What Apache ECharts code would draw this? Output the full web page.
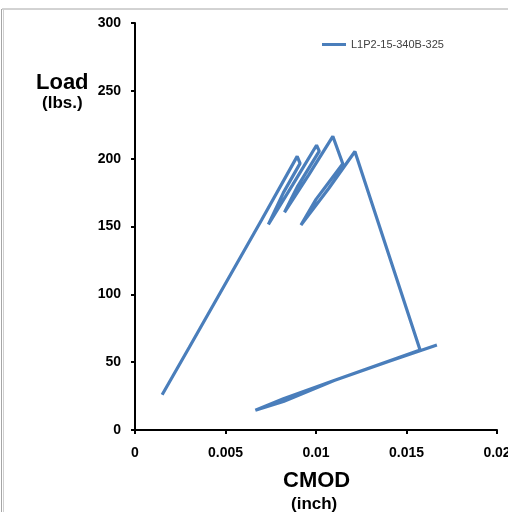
<!DOCTYPE html>
<html>
<head>
<meta charset="utf-8">
<script src="https://cdn.jsdelivr.net/npm/echarts@6/dist/echarts.min.js"></script>
<style>html,body{margin:0;padding:0;background:#fff;}#c{width:508px;height:512px;}</style>
</head>
<body>
<div id="c"></div>
<script>
const seriesName = 'L1P2-15-340B-325';
const cmod = [0.0015, 0.0030, 0.0050, 0.0070, 0.00896, 0.00912, 0.00820, 0.00737, 0.00870, 0.01003, 0.01018, 0.00900, 0.00826, 0.00960, 0.01093, 0.01148, 0.01000, 0.00917, 0.01070, 0.01215, 0.01575, 0.01100, 0.00820, 0.00665, 0.00820, 0.01100, 0.01400, 0.01668];
const load = [26, 61, 108, 155, 201.7, 196.5, 175, 151.5, 180.5, 209.9, 205.5, 180, 160.5, 188, 216.5, 196.3, 170, 151.0, 178, 205.3, 58.9, 36.5, 21.0, 14.5, 23.0, 36.5, 50.5, 62.6];
const xTicks = [0, 0.005, 0.01, 0.015, 0.02];
const yTicks = [0, 50, 100, 150, 200, 250, 300];

const chart = echarts.init(document.getElementById('c'));
const font = '"Liberation Sans", Arial, sans-serif';
chart.setOption({
  animation: false,
  backgroundColor: '#ffffff',
  grid: { left: 135, right: 11, top: 23, bottom: 82, outerBoundsMode: 'none', containLabel: false },
  legend: {
    data: [seriesName], left: 317, top: 34, icon: 'rect', itemWidth: 24, itemHeight: 3, itemGap: 5,
    textStyle: { fontFamily: font, fontSize: 11, color: '#404040' }
  },
  xAxis: {
    type: 'value', min: xTicks[0], max: xTicks[xTicks.length - 1], interval: 0.005,
    axisLine: { lineStyle: { color: '#000', width: 2 } },
    axisTick: { show: true, inside: false, length: 4, lineStyle: { color: '#000', width: 2 } },
    splitLine: { show: false },
    axisLabel: { margin: 16, fontFamily: font, fontWeight: 'bold', fontSize: 14, color: '#000',
      formatter: v => String(+v.toFixed(3)), showMaxLabel: true, showMinLabel: true, hideOverlap: false }
  },
  yAxis: {
    type: 'value', min: yTicks[0], max: yTicks[yTicks.length - 1], interval: 50,
    axisLine: { show: true, lineStyle: { color: '#000', width: 2 } },
    axisTick: { show: true, inside: false, length: 4, lineStyle: { color: '#000', width: 2 } },
    splitLine: { show: false },
    axisLabel: { margin: 14, fontFamily: font, fontWeight: 'bold', fontSize: 14, color: '#000' }
  },
  series: [{
    name: seriesName, type: 'line', showSymbol: false, symbol: 'none',
    data: cmod.map((x, i) => [x, load[i]]),
    lineStyle: { color: '#4a7ebb', width: 3.2 }, itemStyle: { color: '#4a7ebb' }
  }],
  graphic: [
    { type: 'line', shape: { x1: 2, y1: 9, x2: 508, y2: 9 }, style: { stroke: '#a6a6a6', lineWidth: 1 } },
    { type: 'line', shape: { x1: 1.5, y1: 9, x2: 1.5, y2: 512 }, style: { stroke: '#a6a6a6', lineWidth: 1 } },
    { type: 'line', shape: { x1: 3.5, y1: 9, x2: 3.5, y2: 512 }, style: { stroke: '#d0d0d0', lineWidth: 1 } },
    { type: 'text', left: 36, top: 72, style: { text: 'Load', font: 'bold 22px ' + font, fill: '#000' } },
    { type: 'text', left: 42, top: 95, style: { text: '(lbs.)', font: 'bold 17px ' + font, fill: '#000' } },
    { type: 'text', left: 283, top: 470, style: { text: 'CMOD', font: 'bold 22px ' + font, fill: '#000' } },
    { type: 'text', left: 291, top: 496, style: { text: '(inch)', font: 'bold 17px ' + font, fill: '#000' } }
  ]
});
</script>
</body>
</html>
